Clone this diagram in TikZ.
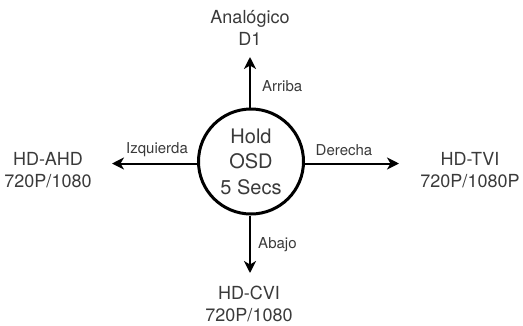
\documentclass[tikz,border=0pt]{standalone}
\usepackage{fontspec}
\setmainfont{TeX Gyre Heros}
\usetikzlibrary{arrows.meta}
\definecolor{txt}{HTML}{3A3A3A}
\begin{document}
\begin{tikzpicture}[x=1pt,y=-1pt,
  hub/.style={circle,draw=black,line width=3pt,minimum size=105pt,inner sep=0pt,text=txt,align=center,font=\fontsize{20}{25.5}\selectfont},
  target/.style={text=txt,align=center,font=\fontsize{18}{22}\selectfont,inner sep=0pt,anchor=base},
  dir/.style={text=txt,font=\fontsize{15}{18}\selectfont,inner sep=0pt,anchor=base},
  arr/.style={line width=2pt,-{Stealth[length=12pt,width=12pt,inset=3.5pt]}}]
\useasboundingbox (0,0) rectangle (523,325);
\node[hub] (c) at (251,161.5) {Hold\\OSD\\5 Secs};
\coordinate (tu) at (250,57);
\coordinate (td) at (250,273);
\coordinate (tl) at (112,163.5);
\coordinate (tr) at (399,163.5);
\node[target] (nu) at (250,45) {Analógico\\D1};
\node[target] (nd) at (249,321.5) {HD-CVI\\720P/1080};
\node[target] (nl) at (48,187) {HD-AHD\\720P/1080};
\node[target] (nr) at (470,187) {HD-TVI\\720P/1080P};
\draw[arr] (c.north -| tu) -- (tu);
\draw[arr] (c.south -| td) -- (td);
\draw[arr] (c.west |- tl) -- (tl);
\draw[arr] (c.east |- tr) -- (tr);
\node[dir,anchor=base west] (lu) at (262,91) {Arriba};
\node[dir,anchor=base west] (ld) at (258,248) {Abajo};
\node[dir] (ll) at (157,153) {Izquierda};
\node[dir] (lr) at (344,155) {Derecha};
\end{tikzpicture}
\end{document}
